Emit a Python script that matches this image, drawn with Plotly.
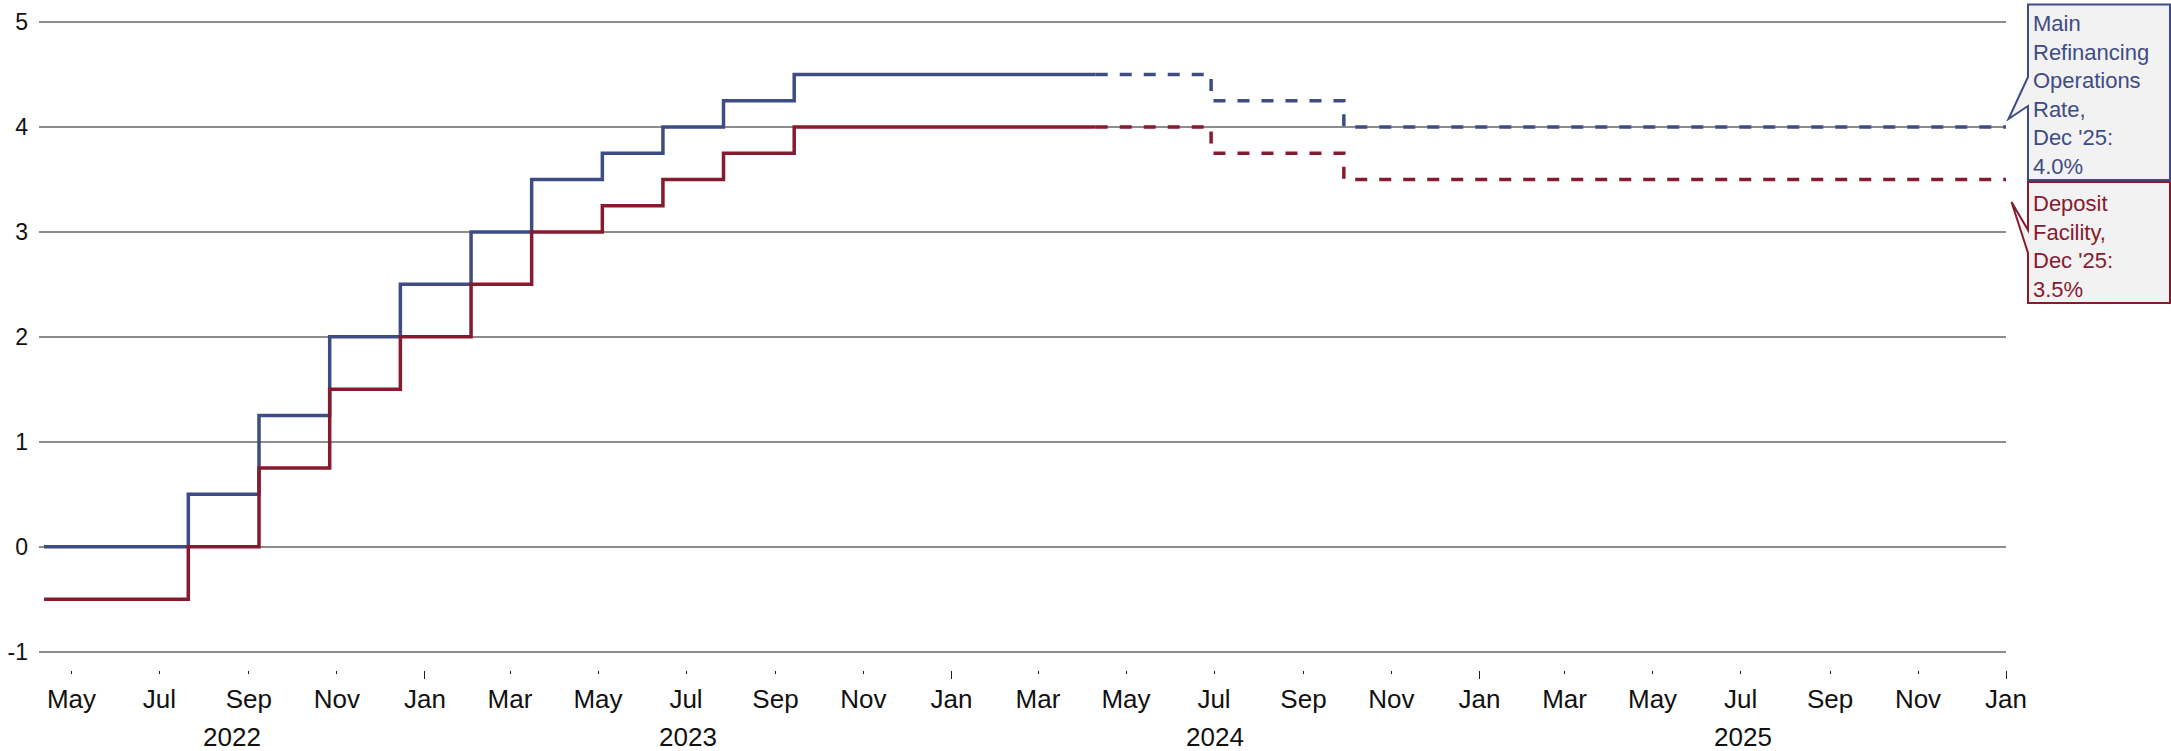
import pandas as pd
import plotly.graph_objects as go

# ECB policy rates (decision dates), in percent
hist_dates = ["2022-04-12", "2022-07-21", "2022-09-08", "2022-10-27", "2022-12-15",
              "2023-02-02", "2023-03-16", "2023-05-04", "2023-06-15", "2023-07-27",
              "2023-09-14", "2024-04-10"]
mro_hist = [0.0, 0.5, 1.25, 2.0, 2.5, 3.0, 3.5, 3.75, 4.0, 4.25, 4.5, 4.5]
dfr_hist = [-0.5, 0.0, 0.75, 1.5, 2.0, 2.5, 3.0, 3.25, 3.5, 3.75, 4.0, 4.0]

# Forecast path
fc_dates = ["2024-04-10", "2024-06-29", "2024-09-29", "2026-01-01"]
mro_fc = [4.5, 4.25, 4.0, 4.0]
dfr_fc = [4.0, 3.75, 3.5, 3.5]

y_ticks = [-1, 0, 1, 2, 3, 4, 5]
y_tick_text = ["-1", "0", "1", "2", "3", "4", "5"]

year_labels = ["2022", "2023", "2024", "2025"]
year_starts = ["2023-01-01", "2024-01-01", "2025-01-01", "2026-01-01"]

mro_label = "Main<br>Refinancing<br>Operations<br>Rate,<br>Dec '25:<br>4.0%"
dfr_label = "Deposit<br>Facility,<br>Dec '25:<br>3.5%"

BLUE = "#3e4c86"
RED = "#861a2e"
GRID = "#8c8c8c"
BOX_FILL = "#f2f2f2"
FONT = "Liberation Sans, Arial, sans-serif"

x_range = ["2022-04-08 12:00", "2026-01-01"]
Y_PAD = 0.012
y_range = [-1 - Y_PAD, 5 + Y_PAD]

W, H = 2171, 751
ML, MR, MT, MB = 39, 165, 20, 81
PW, PH = W - ML - MR, H - MT - MB
Y_TOP_PX, Y_BOT_PX = 22.0, 651.7          # pixel rows of y=5 and y=-1
PX_PER_UNIT = (Y_BOT_PX - Y_TOP_PX) / 6


def xp(px):
    return (px - ML) / PW


def yp(py):
    return (H - MB - py) / PH


y_domain = [yp(Y_BOT_PX + Y_PAD * PX_PER_UNIT), yp(Y_TOP_PX - Y_PAD * PX_PER_UNIT)]

fig = go.Figure()
fig.add_trace(go.Scatter(x=hist_dates, y=mro_hist, mode="lines", line_shape="hv",
                         line=dict(color=BLUE, width=3.5), name="MRO"))
fig.add_trace(go.Scatter(x=fc_dates, y=mro_fc, mode="lines", line_shape="hv",
                         line=dict(color=BLUE, width=3.5, dash="12px,12px"), name="MRO forecast"))
fig.add_trace(go.Scatter(x=hist_dates, y=dfr_hist, mode="lines", line_shape="hv",
                         line=dict(color=RED, width=3.5), name="DFR"))
fig.add_trace(go.Scatter(x=fc_dates, y=dfr_fc, mode="lines", line_shape="hv",
                         line=dict(color=RED, width=3.5, dash="12px,12px"), name="DFR forecast"))
# carrier for the year-boundary tick axis
fig.add_trace(go.Scatter(x=year_starts, y=[None] * len(year_starts), xaxis="x2",
                         mode="lines", showlegend=False, hoverinfo="skip"))

# year labels centred on the visible part of each year
bounds = [pd.Timestamp(x_range[0])] + [pd.Timestamp(d) for d in year_starts]
annotations = []
for i, lab in enumerate(year_labels):
    mid = bounds[i] + (bounds[i + 1] - bounds[i]) / 2
    annotations.append(dict(x=mid, xref="x", y=0, yref="paper", yanchor="middle",
                            yshift=-67, text=lab, showarrow=False,
                            font=dict(family=FONT, size=26, color="#111")))

annotations.append(dict(x=xp(2031), xref="paper", y=yp(9), yref="paper",
                        xanchor="left", yanchor="top", align="left", text=mro_label,
                        showarrow=False, font=dict(family=FONT, size=22, color=BLUE)))
annotations.append(dict(x=xp(2031), xref="paper", y=yp(189), yref="paper",
                        xanchor="left", yanchor="top", align="left", text=dfr_label,
                        showarrow=False, font=dict(family=FONT, size=22, color=RED)))


def callout(pts):
    return "M " + " L ".join(f"{xp(a):.5f},{yp(b):.5f}" for a, b in pts) + " Z"


shapes = [
    dict(type="path", xref="paper", yref="paper", layer="below",
         path=callout([(2028, 4.5), (2170, 4.5), (2170, 180), (2028, 180),
                       (2028, 106), (2008.5, 119), (2028, 77)]),
         fillcolor=BOX_FILL, line=dict(color=BLUE, width=2)),
    dict(type="path", xref="paper", yref="paper", layer="below",
         path=callout([(2028, 182), (2170, 182), (2170, 303), (2028, 303),
                       (2028, 253), (2011.5, 202), (2028, 230)]),
         fillcolor=BOX_FILL, line=dict(color=RED, width=2)),
]

fig.update_layout(
    width=W, height=H,
    margin=dict(l=ML, r=MR, t=MT, b=MB, pad=0, autoexpand=False),
    paper_bgcolor="white", plot_bgcolor="white",
    showlegend=False,
    font=dict(family=FONT, color="#111"),
    xaxis=dict(type="date", range=x_range, dtick="M2", tick0="2022-01-01",
               tickformat="%b", ticks="outside", ticklen=3, tickwidth=1,
               tickcolor="#222", showgrid=False, showline=False, zeroline=False,
               anchor="free", position=0, tickfont=dict(size=26),
               ticklabelstandoff=3, automargin=False),
    xaxis2=dict(type="date", range=x_range, overlaying="x", anchor="free",
                position=0, side="bottom", dtick="M12", tick0="2023-01-01",
                ticks="outside", ticklen=8, tickwidth=1, tickcolor="#222",
                showticklabels=False, showgrid=False, showline=False,
                zeroline=False, automargin=False),
    yaxis=dict(range=y_range, tickmode="array", tickvals=y_ticks, ticktext=y_tick_text,
               domain=y_domain,
               showgrid=True, gridcolor=GRID, gridwidth=2, zeroline=False,
               showline=False, ticks="", tickfont=dict(size=23),
               ticklabelstandoff=10, automargin=False),
    annotations=annotations,
    shapes=shapes,
)

fig.write_html("out.html")
